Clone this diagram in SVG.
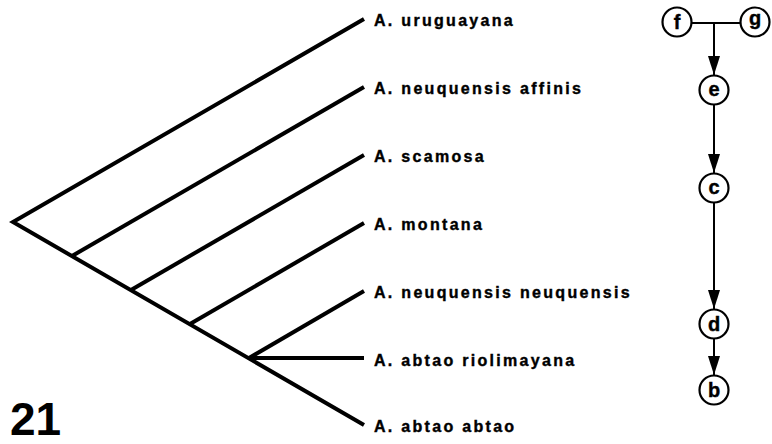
<svg xmlns="http://www.w3.org/2000/svg" width="772" height="444" viewBox="0 0 772 444">
  <style>
    .branch { fill: none; stroke: #000; stroke-width: 4; stroke-linejoin: miter; stroke-linecap: butt; }
    .taxon { font-family: "Liberation Sans", Arial, sans-serif; font-weight: bold; font-size: 16px; letter-spacing: 2.3px; fill: #000; stroke: #000; stroke-width: 0.4px; }
    .fig { font-family: "Liberation Sans", Arial, sans-serif; font-weight: bold; font-size: 46px; fill: #000; }
    .state circle { fill: #fff; stroke: #000; stroke-width: 2.2; }
    .state text { font-family: "Liberation Sans", Arial, sans-serif; font-weight: bold; font-size: 20px; text-anchor: middle; fill: #000; stroke: #000; stroke-width: 0.4px; }
    .link { stroke: #000; stroke-width: 2; fill: none; }
  </style>
  <defs>
    <marker id="head" markerUnits="userSpaceOnUse" viewBox="0 0 19 12" refX="19" refY="6" markerWidth="19" markerHeight="12" orient="auto">
      <path d="M0,0 L19,6 L0,12 Z" fill="#000"/>
    </marker>
  </defs>
  <rect width="772" height="444" fill="#fff"/>

  <!-- cladogram -->
  <g id="tree">
    <path class="branch" d="M364,19 L13,222 L364,425"/>
    <path class="branch" d="M72,256 L364,87"/>
    <path class="branch" d="M131,290 L364,155"/>
    <path class="branch" d="M190,324 L364,223"/>
    <path class="branch" d="M249,358 L364,291"/>
    <path class="branch" d="M249,358 L364,358"/>
  </g>

  <g id="taxa">
    <text class="taxon" x="374" y="26">A. uruguayana</text>
    <text class="taxon" x="374" y="94">A. neuquensis affinis</text>
    <text class="taxon" x="374" y="162">A. scamosa</text>
    <text class="taxon" x="374" y="230">A. montana</text>
    <text class="taxon" x="374" y="298">A. neuquensis neuquensis</text>
    <text class="taxon" x="374" y="366">A. abtao riolimayana</text>
    <text class="taxon" x="374" y="432">A. abtao abtao</text>
  </g>

  <text class="fig" x="10" y="435">21</text>

  <!-- character-state transformation series -->
  <g id="connectors">
    <line class="link" x1="691" y1="23" x2="741" y2="23"/>
    <line class="link" x1="714" y1="23" x2="714" y2="75" marker-end="url(#head)"/>
    <line class="link" x1="714" y1="105" x2="714" y2="173" marker-end="url(#head)"/>
    <line class="link" x1="714" y1="203" x2="714" y2="309" marker-end="url(#head)"/>
    <line class="link" x1="714" y1="339" x2="714" y2="375" marker-end="url(#head)"/>
  </g>

  <g id="state-f" class="state">
    <circle cx="677" cy="22" r="14.5"/>
    <text x="677" y="29">f</text>
  </g>
  <g id="state-g" class="state">
    <circle cx="755" cy="22" r="14.5"/>
    <text x="755" y="25">g</text>
  </g>
  <g id="state-e" class="state">
    <circle cx="714" cy="90" r="14.5"/>
    <text x="714" y="95.5">e</text>
  </g>
  <g id="state-c" class="state">
    <circle cx="714" cy="188" r="14.5"/>
    <text x="714" y="193.5">c</text>
  </g>
  <g id="state-d" class="state">
    <circle cx="714" cy="324" r="14.5"/>
    <text x="714" y="331">d</text>
  </g>
  <g id="state-b" class="state">
    <circle cx="714" cy="390" r="14.5"/>
    <text x="714" y="397">b</text>
  </g>
</svg>
